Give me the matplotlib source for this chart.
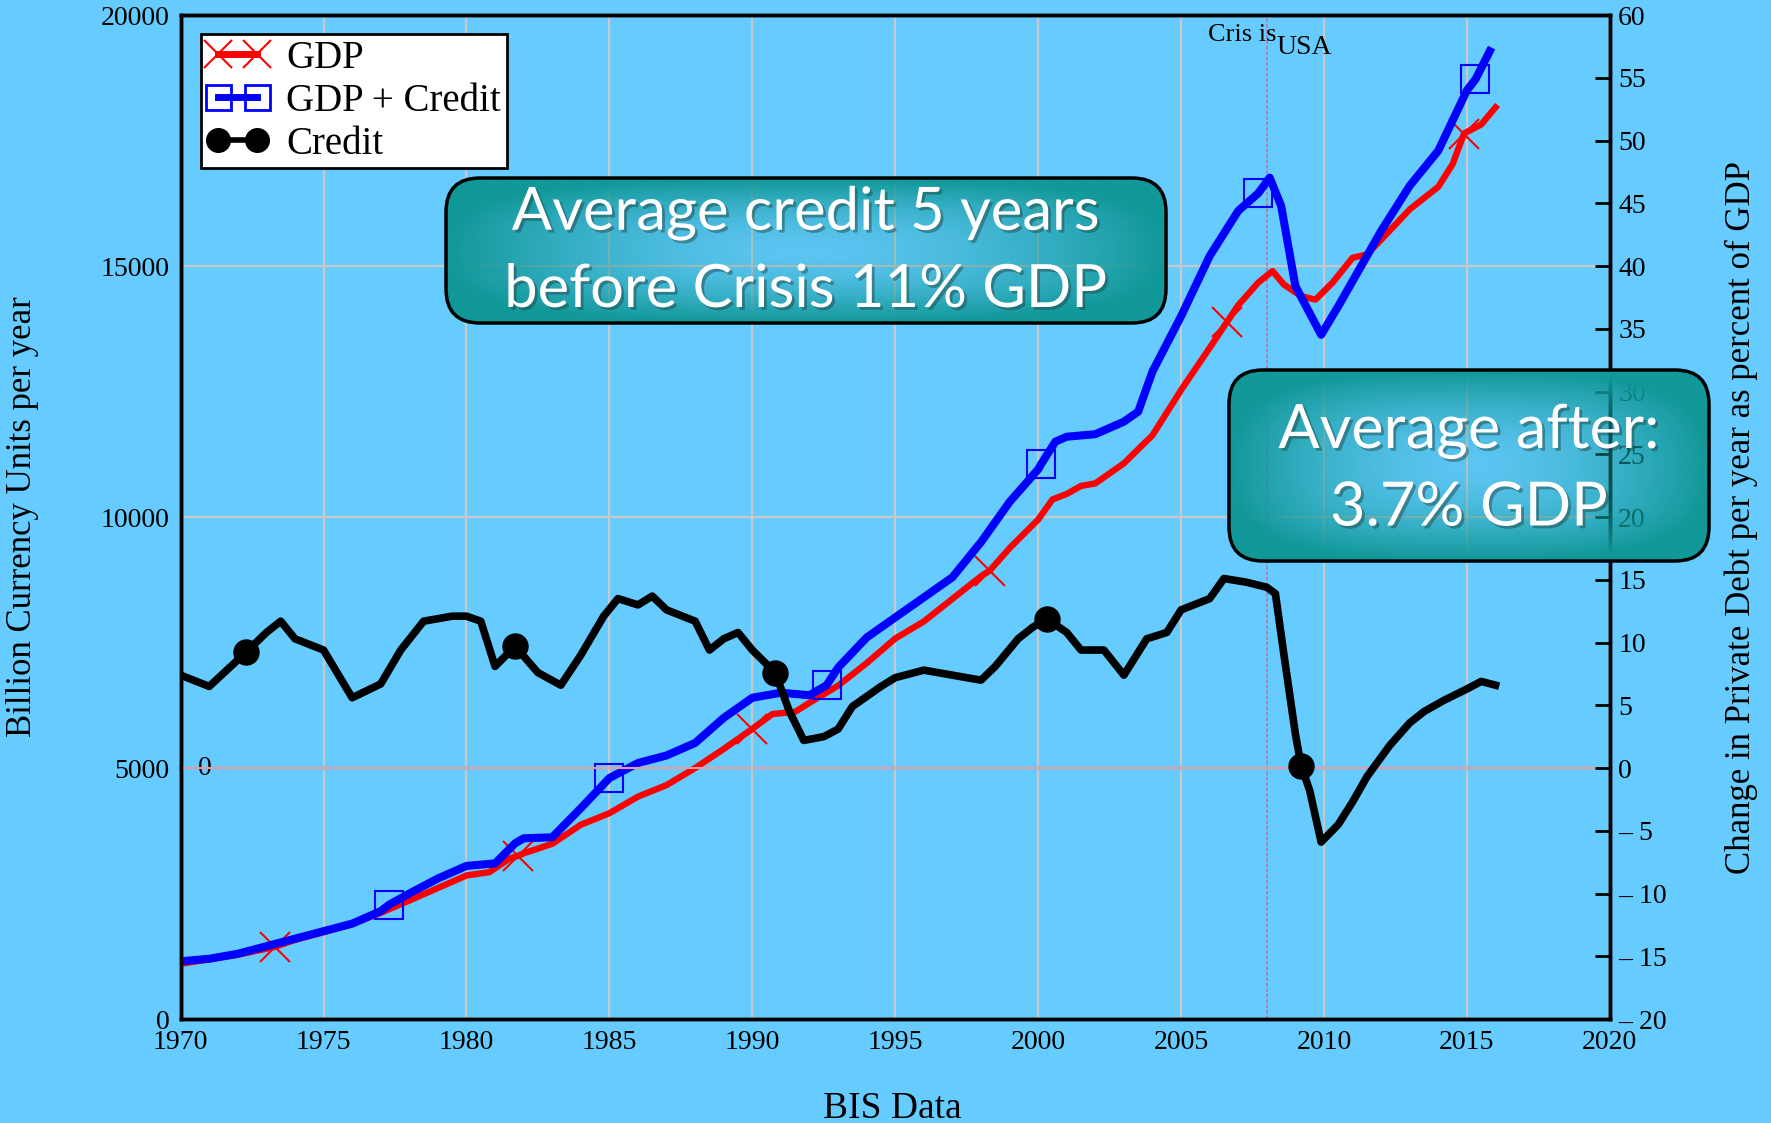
import numpy as np
import matplotlib.pyplot as plt
import matplotlib.patheffects as pe
from matplotlib.patches import FancyBboxPatch
from matplotlib.lines import Line2D

# GDP (billion currency units per year)
gdp_years = [1970, 1971, 1972, 1973, 1973.3, 1974, 1975, 1976, 1977, 1978, 1979, 1980, 1980.8, 1981.5,
             1981.8, 1982, 1983, 1984, 1985, 1986, 1987, 1988, 1989, 1990, 1990.7, 1991.5, 1992, 1993,
             1994, 1995, 1996, 1997, 1998, 1998.3, 1999, 2000, 2000.5, 2001, 2001.5, 2002, 2003, 2004,
             2005, 2006, 2006.6, 2007, 2007.7, 2008.2, 2008.6, 2009.2, 2009.7, 2010.3, 2011, 2011.5,
             2012, 2013, 2014, 2014.5, 2014.9, 2015.5, 2016]
gdp = [1100, 1190, 1280, 1400, 1440, 1575, 1730, 1890, 2115, 2360, 2610, 2860, 2925, 3195,
       3250, 3300, 3490, 3870, 4100, 4430, 4660, 5000, 5380, 5780, 6075, 6120, 6300, 6640,
       7090, 7580, 7920, 8370, 8820, 8930, 9380, 9950, 10350, 10460, 10620, 10670, 11070, 11630,
       12530, 13370, 13880, 14220, 14670, 14900, 14630, 14400, 14330, 14670, 15165, 15230,
       15525, 16130, 16580, 17030, 17640, 17820, 18160]
gdp_marks = [1973.3, 1981.8, 1990, 1998.3, 2006.6, 2014.9]

# GDP + Credit
gdpc_years = [1970, 1971, 1972, 1973, 1974, 1975, 1976, 1977, 1977.3, 1978, 1979, 1980, 1981,
              1981.7, 1982, 1983, 1984, 1985, 1986, 1987, 1988, 1989, 1990, 1991, 1992, 1992.6, 1993,
              1994, 1995, 1996, 1997, 1998, 1999, 2000, 2000.1, 2000.6, 2001, 2002, 2003, 2003.5, 2004,
              2005, 2006, 2007, 2007.7, 2008.1, 2008.5, 2009, 2009.9, 2010.5, 2011, 2012, 2013, 2014,
              2015, 2015.3, 2015.8]
gdpc = [1150, 1200, 1300, 1450, 1600, 1750, 1900, 2150, 2280, 2500, 2800, 3050, 3100,
        3500, 3600, 3620, 4200, 4800, 5100, 5250, 5500, 6000, 6400, 6500, 6450, 6650, 7000,
        7600, 8000, 8400, 8800, 9500, 10300, 10950, 11050, 11500, 11600, 11650, 11900, 12100, 12900,
        14000, 15200, 16100, 16450, 16760, 16200, 14600, 13630, 14200, 14700, 15700, 16600, 17300,
        18500, 18720, 19280]
gdpc_marks = [1977.3, 1985, 1992.6, 2000.1, 2007.7, 2015.3]

# Credit, change in private debt as percent of GDP
credit_years = [1970, 1971, 1972.3, 1973, 1973.5, 1974, 1975, 1976, 1977, 1977.7, 1978.5, 1979.5,
                1980, 1980.5, 1981, 1981.7, 1982.5, 1983.3, 1984, 1984.8, 1985.3, 1986, 1986.5, 1987,
                1988, 1988.5, 1989, 1989.5, 1990, 1990.8, 1991.3, 1991.8, 1992.5, 1993, 1993.5, 1994.5,
                1995, 1996, 1997, 1998, 1998.5, 1999.3, 1999.8, 2000.3, 2001, 2001.5, 2002.3, 2003,
                2003.8, 2004.5, 2005, 2006, 2006.5, 2007.3, 2008, 2008.3, 2008.6, 2009, 2009.2, 2009.5,
                2009.9, 2010.5, 2011, 2011.5, 2012.3, 2013, 2013.5, 2014.2, 2015, 2015.5, 2016]
credit = [7.4, 6.5, 9.25, 10.8, 11.7, 10.3, 9.4, 5.6, 6.7, 9.4, 11.7, 12.1,
          12.1, 11.7, 8.1, 9.7, 7.6, 6.6, 9.0, 12.1, 13.5, 13.0, 13.7, 12.6,
          11.7, 9.4, 10.3, 10.8, 9.4, 7.6, 4.5, 2.2, 2.5, 3.1, 4.9, 6.5,
          7.2, 7.8, 7.4, 7.0, 8.1, 10.3, 11.2, 11.9, 10.8, 9.4, 9.4, 7.4,
          10.3, 10.8, 12.6, 13.5, 15.1, 14.8, 14.4, 13.9, 9.0, 2.7, 0.2, -1.8,
          -5.9, -4.5, -2.7, -0.7, 1.8, 3.6, 4.5, 5.4, 6.3, 6.9, 6.6]
credit_marks = [1972.3, 1981.7, 1990.8, 2000.3, 2009.2]

x_ticks = [1970, 1975, 1980, 1985, 1990, 1995, 2000, 2005, 2010, 2015, 2020]
left_ticks = [0, 5000, 10000, 15000, 20000]
right_ticks = list(range(-20, 65, 5))
right_tick_labels = ['\u2013 20', '\u2013 15', '\u2013 10', '\u2013 5', '0', '5', '10', '15', '20',
                     '25', '30', '35', '40', '45', '50', '55', '60']
crisis_year = 2008

bg = '#66CCFF'
serif = ['Liberation Serif', 'DejaVu Serif']
plt.rcParams['font.family'] = serif

fig = plt.figure(figsize=(17.71, 11.23), dpi=100, facecolor=bg)
ax = fig.add_axes([0.102, 0.0926, 0.807, 0.894], facecolor=bg)
ax2 = ax.twinx()

def mark_idx(xs, marks):
    return [xs.index(m) for m in marks]

ax.plot(gdp_years, gdp, color='#FF0000', lw=4.6, marker='x', markersize=22, markeredgewidth=1.5,
        markevery=mark_idx(gdp_years, gdp_marks), zorder=3)
ax.plot(gdpc_years, gdpc, color='#0000FF', lw=5.8, marker='s', markersize=20, markerfacecolor='none',
        markeredgewidth=1.5, markevery=mark_idx(gdpc_years, gdpc_marks), zorder=3)
ax2.plot(credit_years, credit, color='black', lw=5.5, marker='o', markersize=18,
         markevery=mark_idx(credit_years, credit_marks), zorder=3)

ax.set_xlim(1970, 2020)
ax.set_ylim(0, 20000)
ax2.set_ylim(-20, 60)
ax.set_xticks(x_ticks)
ax.set_yticks(left_ticks)
ax2.set_yticks(right_ticks)
ax2.set_yticklabels(right_tick_labels)

ax.grid(True, color='#C8C8C8', lw=1.6)
ax.set_axisbelow(True)
ax2.axhline(0, color='#E89AA8', lw=1.5, zorder=1)
ax.axvline(crisis_year, color='#B080B0', lw=1.3, ls=(0, (2, 1)), zorder=1)

ax.tick_params(axis='both', length=0, labelsize=20, pad=8)
ax2.tick_params(axis='y', direction='in', length=11, width=2, labelsize=20, pad=6)
for a in (ax, ax2):
    for s in a.spines.values():
        s.set_linewidth(2.5)

ax.text(1970.6, 5000, '0', fontsize=20, va='center', ha='left')
ax.text(2008.35, 19600, 'Cris is', fontsize=19, ha='right', va='center')
ax.text(2008.35, 19350, 'USA', fontsize=20, ha='left', va='center')

ax.set_ylabel('Billion Currency Units per year', fontsize=25)
ax.yaxis.set_label_coords(-0.099, 0.5)
ax2.set_ylabel('Change in Private Debt per year as percent of GDP', fontsize=25, rotation=90)
ax2.yaxis.set_label_coords(1.080, 0.5)
fig.text(0.504, 0.013, 'BIS Data', fontsize=27, ha='center', va='center')

handles = [
    Line2D([], [], color='#FF0000', lw=5, marker='x', markersize=20, markeredgewidth=1.5),
    Line2D([], [], color='#0000FF', lw=5, marker='s', markersize=18, markerfacecolor='none',
           markeredgewidth=2),
    Line2D([], [], color='black', lw=4, marker='o', markersize=17),
]
leg = ax2.legend(handles, ['GDP', 'GDP + Credit', 'Credit'], loc='upper left',
                 bbox_to_anchor=(0.014, 0.981), borderaxespad=0, numpoints=2, fontsize=28,
                 handlelength=1.6, handletextpad=0.45, fancybox=False, framealpha=1,
                 edgecolor='black', labelspacing=0.15, borderpad=0.15)
leg.get_frame().set_linewidth(2)

# annotation boxes drawn in figure pixel space
ov = fig.add_axes([0, 0, 1, 1], zorder=10)
ov.set_xlim(0, 1771)
ov.set_ylim(1123, 0)
ov.axis('off')
ov.patch.set_alpha(0)

def gradient_box(x0, y0, w, h, lines, line_y, fs):
    patch = FancyBboxPatch((x0, y0), w, h, boxstyle='round,pad=0,rounding_size=34',
                           facecolor='none', edgecolor='black', lw=2.5, zorder=3)
    ov.add_patch(patch)
    ny, nx = 60, 120
    u = np.linspace(-1, 1, nx)[None, :]
    v = np.linspace(-1, 1, ny)[:, None]
    t = (np.abs(u) ** 3 + np.abs(v) ** 3) ** (1 / 3)
    t = np.clip(t, 0, 1)
    rgba = np.zeros((ny, nx, 4))
    rgba[..., 0] = 17 / 255
    rgba[..., 1] = 152 / 255
    rgba[..., 2] = 152 / 255
    rgba[..., 3] = 0.12 + 0.88 * t ** 1.6
    im = ov.imshow(rgba, extent=(x0, x0 + w, y0 + h, y0), origin='upper', zorder=2,
                   interpolation='bicubic', aspect='auto')
    im.set_clip_path(patch)
    for s, yy in zip(lines, line_y):
        ov.text(x0 + w / 2, yy, s, color='white', fontsize=fs, family=['Lato', 'DejaVu Sans'],
                ha='center', va='center', zorder=4,
                path_effects=[pe.SimplePatchShadow(offset=(2, -2), shadow_rgbFace='#204040', alpha=0.45),
                              pe.Normal()])

gradient_box(446, 178, 720, 145, ['Average credit 5 years', 'before Crisis 11% GDP'], [213, 290], 43)
gradient_box(1229, 370, 480, 191, ['Average after:', '3.7% GDP'], [431, 508], 44)

ov.set_xlim(0, 1771)
ov.set_ylim(1123, 0)

fig.savefig('out.png', dpi=100, facecolor=bg)
